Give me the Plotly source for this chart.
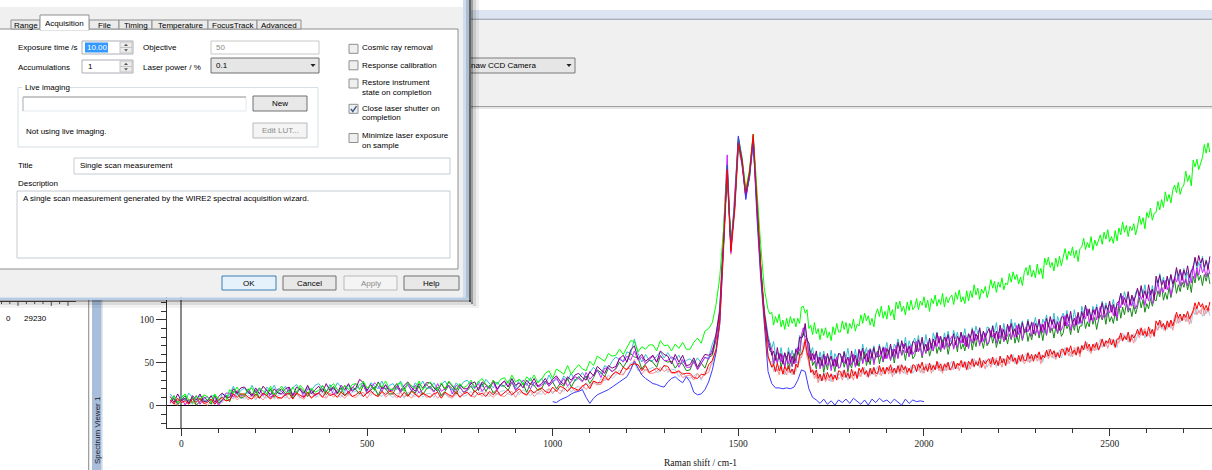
import plotly.graph_objects as go

# ---------------- data ----------------
# sampling: every 10 cm-1 up to 1570, then every 5 cm-1 (denser noisy part)
raman_shift = list(range(-30, 1580, 10)) + list(range(1575, 2775, 5))
blue_shift = list(range(1000, 2010, 10))
x_tick_values = [0, 500, 1000, 1500, 2000, 2500]

purple = [
 11, 4, 14, 6, 9, 3, 12, 7, 14, 5,
 6, 12, 4, 11, 15, 10, 10, 20, 15, 21,
 22, 16, 12, 21, 14, 23, 18, 13, 20, 15,
 14, 20, 22, 12, 22, 18, 15, 24, 14, 19,
 23, 16, 26, 18, 21, 15, 24, 19, 26, 17,
 21, 31, 27, 18, 25, 19, 28, 20, 24, 17,
 20, 26, 18, 24, 28, 21, 17, 26, 21, 27,
 27, 21, 17, 26, 19, 28, 23, 18, 25, 20,
 20, 26, 28, 18, 28, 24, 21, 30, 20, 25,
 29, 22, 32, 24, 27, 21, 30, 25, 32, 23,
 26, 32, 25, 31, 35, 29, 25, 34, 30, 36,
 38, 33, 30, 40, 35, 46, 42, 38, 47, 44,
 46, 55, 59, 51, 65, 70, 55, 60, 52, 55,
 59, 51, 64, 60, 58, 49, 60, 51, 59, 47,
 48, 56, 45, 53, 60, 59, 61, 84, 110, 188,
 278, 182, 232, 308, 284, 246, 270, 314, 232, 160,
 108,
 92, 78, 70, 59, 64, 53, 68, 55, 61, 49, 62, 54, 63, 51, 58, 49, 66, 60, 80, 79,
 82, 96, 77, 73, 53, 61, 54, 64, 50, 57, 47, 60, 49, 61, 52, 58, 47, 55, 46, 61,
 60, 51, 63, 49, 57, 48, 64, 52, 59, 47, 66, 58, 67, 55, 61, 51, 66, 56, 68, 57,
 57, 70, 60, 68, 55, 67, 61, 72, 58, 66, 61, 74, 64, 76, 67, 73, 62, 70, 60, 75,
 74, 63, 77, 69, 80, 66, 72, 64, 79, 67, 78, 70, 85, 73, 81, 68, 80, 75, 83, 70,
 74, 84, 71, 81, 76, 86, 73, 82, 69, 84, 79, 89, 76, 84, 78, 91, 75, 87, 80, 86,
 90, 81, 93, 79, 87, 78, 94, 82, 89, 77, 95, 87, 96, 84, 90, 80, 95, 85, 97, 86,
 86, 99, 89, 97, 84, 96, 90, 101, 87, 95, 89, 102, 92, 104, 95, 101, 90, 98, 88, 103,
 104, 93, 107, 99, 110, 96, 102, 94, 109, 97, 110, 102, 117, 105, 113, 100, 112, 107, 115, 102,
 110, 120, 107, 117, 112, 122, 109, 118, 105, 120, 121, 131, 118, 126, 120, 133, 117, 129, 122, 128,
 137, 128, 140, 126, 134, 125, 141, 129, 136, 124, 151, 143, 152, 140, 146, 136, 151, 141, 153, 142,
 148, 161, 151, 159, 146, 158, 152, 163, 149, 157, 160, 173, 163, 175, 166, 172, 161, 169, 159, 174]

cyan = [
 14, 8, 4, 13, 6, 15, 10, 5, 12, 7,
 5, 11, 13, 4, 14, 12, 13, 23, 13, 18,
 21, 14, 24, 16, 19, 13, 22, 17, 24, 15,
 17, 23, 15, 21, 25, 18, 14, 23, 18, 24,
 26, 20, 16, 25, 18, 27, 22, 17, 24, 19,
 19, 25, 27, 17, 27, 23, 20, 29, 19, 24,
 26, 19, 29, 21, 24, 18, 27, 22, 29, 20,
 21, 27, 19, 25, 29, 22, 18, 27, 22, 28,
 30, 24, 20, 29, 22, 31, 26, 21, 28, 23,
 23, 29, 31, 21, 31, 27, 24, 33, 23, 28,
 32, 25, 36, 28, 31, 26, 35, 30, 38, 29,
 32, 39, 32, 39, 45, 40, 37, 47, 44, 52,
 57, 54, 52, 63, 61, 78, 61, 51, 60, 53,
 53, 58, 63, 56, 62, 55, 54, 59, 50, 53,
 55, 49, 56, 50, 56, 56, 72, 83, 115, 195,
 270, 190, 228, 302, 288, 250, 265, 310, 238, 165,
 112,
 96, 82, 74, 67, 75, 59, 63, 54, 68, 56, 61, 53, 68, 56, 65, 53, 67, 66, 82, 78,
 83, 94, 73, 73, 62, 68, 54, 62, 49, 63, 54, 64, 50, 58, 52, 65, 49, 61, 55, 61,
 61, 50, 64, 56, 67, 53, 59, 51, 66, 54, 65, 57, 72, 60, 68, 55, 67, 62, 70, 57,
 62, 72, 59, 69, 64, 74, 61, 70, 57, 72, 68, 78, 65, 73, 67, 80, 64, 76, 69, 75,
 79, 70, 82, 68, 76, 67, 83, 71, 78, 66, 85, 77, 86, 74, 80, 70, 85, 75, 87, 76,
 75, 88, 78, 86, 73, 85, 79, 90, 76, 84, 78, 91, 81, 93, 84, 90, 79, 87, 77, 92,
 91, 80, 94, 86, 97, 83, 89, 81, 96, 84, 94, 86, 101, 89, 97, 84, 96, 91, 99, 86,
 91, 101, 88, 98, 93, 103, 90, 99, 86, 101, 96, 106, 93, 101, 95, 108, 92, 104, 97, 103,
 108, 99, 111, 97, 105, 96, 112, 100, 107, 95, 116, 108, 117, 105, 111, 101, 116, 106, 118, 107,
 109, 122, 112, 120, 107, 119, 113, 124, 110, 118, 118, 131, 121, 133, 124, 130, 119, 127, 117, 132,
 135, 124, 138, 130, 141, 127, 133, 125, 140, 128, 147, 139, 154, 142, 150, 137, 149, 144, 152, 139,
 148, 158, 145, 155, 150, 160, 147, 156, 143, 158, 162, 172, 159, 167, 161, 174, 158, 170, 163, 169]

magenta = [
 3, 12, 5, 10, 1, 7, 4, 12, 2, 9,
 11, 5, 10, 1, 6, 15, 15, 10, 18, 12,
 13, 18, 11, 16, 21, 12, 19, 10, 14, 20,
 17, 12, 22, 13, 16, 20, 10, 20, 18, 12,
 15, 24, 17, 22, 13, 19, 16, 24, 14, 21,
 26, 20, 25, 15, 20, 27, 23, 17, 25, 19,
 18, 23, 16, 21, 26, 17, 24, 15, 19, 25,
 21, 16, 26, 17, 20, 24, 14, 24, 22, 16,
 19, 28, 21, 26, 17, 23, 20, 28, 18, 25,
 29, 23, 28, 18, 23, 30, 26, 20, 28, 22,
 24, 29, 23, 28, 33, 25, 32, 23, 28, 34,
 32, 28, 39, 31, 36, 42, 33, 44, 44, 40,
 44, 56, 51, 58, 53, 64, 53, 57, 49, 54,
 58, 51, 59, 53, 53, 57, 55, 45, 54, 45,
 45, 52, 42, 49, 57, 54, 67, 78, 112, 200,
 292, 178, 240, 312, 280, 242, 268, 308, 228, 155,
 104,
 88, 74, 66, 67, 49, 57, 50, 61, 51, 59, 44, 56, 49, 61, 46, 56, 50, 68, 64, 83,
 91, 77, 78, 58, 62, 52, 60, 47, 57, 43, 53, 45, 58, 47, 53, 41, 54, 46, 57, 44,
 45, 58, 50, 55, 43, 56, 48, 60, 45, 53, 52, 64, 49, 57, 51, 65, 54, 62, 48, 59,
 63, 57, 64, 52, 68, 55, 61, 53, 66, 56, 70, 55, 68, 59, 72, 62, 67, 57, 70, 60,
 64, 75, 63, 73, 58, 68, 62, 74, 65, 73, 64, 76, 69, 81, 65, 74, 66, 80, 68, 77,
 81, 66, 76, 68, 79, 73, 82, 70, 80, 67, 81, 73, 87, 76, 82, 70, 83, 75, 85, 72,
 75, 88, 80, 85, 73, 86, 78, 90, 75, 83, 81, 93, 78, 86, 80, 94, 83, 91, 77, 88,
 92, 86, 93, 81, 97, 84, 90, 82, 95, 85, 98, 83, 96, 87, 100, 90, 95, 85, 98, 88,
 94, 105, 93, 103, 88, 98, 92, 104, 95, 103, 96, 108, 101, 113, 97, 106, 98, 112, 100, 109,
 116, 101, 111, 103, 114, 108, 117, 105, 115, 102, 122, 114, 128, 117, 123, 111, 124, 116, 126, 113,
 119, 132, 124, 129, 117, 130, 122, 134, 119, 127, 133, 145, 130, 138, 132, 146, 135, 143, 129, 140,
 150, 144, 151, 139, 155, 142, 148, 140, 153, 143, 163, 148, 161, 152, 165, 155, 160, 150, 163, 153]

dark_green = [
 4, 9, 2, 7, 12, 3, 10, 1, 5, 11,
 7, 2, 12, 3, 7, 12, 5, 17, 15, 9,
 11, 20, 13, 18, 9, 15, 12, 20, 10, 17,
 20, 14, 19, 9, 14, 21, 17, 11, 19, 13,
 15, 20, 13, 18, 23, 14, 21, 12, 16, 22,
 19, 14, 24, 15, 18, 22, 12, 22, 20, 14,
 14, 23, 16, 21, 12, 18, 15, 23, 13, 20,
 23, 17, 22, 12, 17, 24, 20, 14, 22, 16,
 18, 23, 16, 21, 26, 17, 24, 15, 19, 25,
 23, 18, 28, 19, 22, 26, 16, 26, 24, 18,
 20, 29, 23, 28, 20, 26, 23, 32, 22, 30,
 34, 29, 35, 26, 33, 42, 39, 34, 44, 40,
 43, 51, 45, 52, 61, 57, 56, 43, 49, 53,
 51, 45, 58, 53, 51, 52, 44, 50, 49, 41,
 42, 53, 43, 50, 44, 56, 59, 77, 108, 185,
 272, 185, 232, 305, 282, 244, 266, 311, 234, 162,
 106,
 86, 72, 64, 63, 48, 59, 50, 61, 45, 53, 46, 58, 43, 51, 46, 61, 52, 64, 58, 79,
 86, 81, 79, 55, 64, 47, 52, 43, 56, 45, 54, 39, 51, 42, 55, 45, 50, 40, 54, 44,
 46, 57, 45, 55, 40, 50, 44, 56, 47, 55, 46, 58, 51, 63, 47, 56, 48, 62, 50, 59,
 64, 49, 59, 51, 62, 56, 65, 53, 63, 50, 64, 56, 70, 59, 65, 53, 66, 58, 68, 55,
 58, 71, 63, 68, 56, 69, 61, 73, 58, 66, 64, 76, 61, 69, 63, 77, 66, 74, 60, 71,
 74, 68, 75, 63, 79, 66, 72, 64, 77, 67, 80, 65, 78, 69, 82, 72, 77, 67, 80, 70,
 74, 85, 73, 83, 68, 78, 72, 84, 75, 83, 72, 84, 77, 89, 73, 82, 74, 88, 76, 85,
 90, 75, 85, 77, 88, 82, 91, 79, 89, 76, 90, 82, 96, 85, 91, 79, 92, 84, 94, 81,
 85, 98, 90, 95, 83, 96, 88, 100, 85, 93, 93, 105, 90, 98, 92, 106, 95, 103, 89, 100,
 106, 100, 107, 95, 111, 98, 104, 96, 109, 99, 117, 102, 115, 106, 119, 109, 114, 104, 117, 107,
 115, 126, 114, 124, 109, 119, 113, 125, 116, 124, 122, 134, 127, 139, 123, 132, 124, 138, 126, 135,
 146, 131, 141, 133, 144, 138, 147, 135, 145, 132, 151, 143, 157, 146, 152, 140, 153, 145, 155, 142]

red = [
 7, 2, 9, 4, 6, 2, 8, 4, 9, 3,
 4, 8, 2, 7, 10, 6, 7, 14, 10, 14,
 14, 10, 8, 14, 9, 15, 12, 8, 13, 10,
 9, 13, 15, 8, 15, 12, 10, 16, 9, 13,
 15, 10, 17, 12, 14, 10, 16, 12, 17, 11,
 13, 17, 11, 15, 18, 13, 11, 17, 13, 17,
 16, 12, 10, 16, 11, 17, 14, 10, 15, 12,
 10, 14, 16, 9, 16, 13, 11, 17, 10, 14,
 16, 11, 18, 13, 15, 11, 17, 13, 18, 12,
 15, 19, 13, 17, 20, 15, 13, 19, 15, 19,
 21, 17, 15, 22, 17, 23, 21, 17, 22, 20,
 18, 23, 26, 20, 29, 27, 27, 35, 30, 36,
 40, 37, 45, 42, 48, 49, 48, 41, 47, 39,
 42, 44, 41, 47, 46, 39, 39, 41, 37, 38,
 38, 33, 32, 37, 36, 48, 53, 66, 100, 182,
 275, 180, 228, 306, 286, 248, 272, 316, 236, 164,
 104,
 80, 58, 52, 45, 48, 40, 50, 41, 46, 37, 46, 41, 47, 39, 43, 37, 49, 45, 59, 60,
 66, 77, 62, 55, 39, 42, 36, 42, 32, 37, 29, 38, 31, 39, 33, 37, 31, 36, 30, 41,
 40, 34, 42, 33, 38, 32, 43, 35, 40, 32, 44, 39, 45, 37, 41, 34, 44, 37, 45, 38,
 38, 47, 40, 45, 37, 45, 41, 48, 39, 44, 38, 47, 40, 48, 42, 46, 39, 44, 38, 48,
 47, 40, 49, 44, 51, 42, 46, 40, 50, 42, 47, 42, 52, 44, 49, 41, 49, 45, 51, 42,
 45, 52, 43, 50, 47, 53, 45, 51, 42, 52, 48, 55, 46, 51, 47, 56, 45, 53, 49, 53,
 55, 49, 57, 48, 53, 47, 58, 50, 55, 47, 59, 54, 60, 52, 56, 49, 59, 52, 60, 53,
 53, 62, 55, 60, 52, 60, 56, 63, 54, 59, 56, 65, 58, 66, 60, 64, 57, 62, 56, 66,
 66, 59, 68, 63, 70, 61, 65, 59, 69, 61, 70, 65, 75, 67, 72, 64, 72, 68, 74, 65,
 71, 78, 69, 76, 73, 79, 71, 77, 68, 78, 78, 85, 76, 81, 77, 86, 75, 83, 79, 83,
 89, 83, 91, 82, 87, 81, 92, 84, 89, 81, 99, 94, 100, 92, 96, 89, 99, 92, 100, 93,
 100, 109, 102, 107, 99, 107, 103, 110, 101, 106, 111, 120, 113, 121, 115, 119, 112, 117, 111, 121]

pink = [
 7, 3, 1, 7, 2, 8, 5, 1, 6, 3,
 1, 5, 7, 1, 8, 6, 7, 14, 7, 11,
 12, 7, 14, 9, 11, 7, 13, 9, 14, 8,
 10, 14, 8, 12, 15, 10, 8, 14, 10, 14,
 15, 11, 9, 15, 10, 16, 13, 9, 14, 11,
 10, 14, 16, 9, 16, 13, 11, 17, 10, 14,
 14, 9, 16, 11, 13, 9, 15, 11, 16, 10,
 11, 15, 9, 13, 16, 11, 9, 15, 11, 15,
 16, 12, 10, 16, 11, 17, 14, 10, 15, 12,
 11, 15, 17, 10, 17, 14, 12, 18, 11, 15,
 18, 13, 20, 16, 18, 14, 21, 17, 22, 17,
 19, 24, 19, 24, 29, 25, 25, 32, 30, 36,
 39, 37, 36, 44, 43, 54, 44, 37, 43, 38,
 38, 40, 45, 40, 43, 38, 38, 40, 33, 35,
 36, 30, 38, 32, 37, 39, 53, 63, 96, 178,
 268, 176, 224, 300, 282, 244, 266, 306, 230, 160,
 100,
 78, 56, 50, 46, 51, 40, 43, 36, 46, 37, 41, 36, 46, 38, 43, 36, 46, 45, 57, 56,
 65, 74, 57, 52, 41, 42, 32, 37, 27, 37, 30, 37, 28, 33, 29, 38, 28, 36, 32, 37,
 37, 30, 39, 34, 41, 32, 36, 30, 40, 32, 39, 34, 44, 36, 41, 33, 41, 37, 43, 34,
 37, 44, 35, 42, 39, 45, 37, 43, 34, 44, 39, 46, 37, 42, 38, 47, 36, 44, 40, 44,
 46, 40, 48, 39, 44, 38, 49, 41, 46, 38, 48, 43, 49, 41, 45, 38, 48, 41, 49, 42,
 42, 51, 44, 49, 41, 49, 45, 52, 43, 48, 43, 52, 45, 53, 47, 51, 44, 49, 43, 53,
 52, 45, 54, 49, 56, 47, 51, 45, 55, 47, 54, 49, 59, 51, 56, 48, 56, 52, 58, 49,
 52, 59, 50, 57, 54, 60, 52, 58, 49, 59, 57, 64, 55, 60, 56, 65, 54, 62, 58, 62,
 65, 59, 67, 58, 63, 57, 68, 60, 65, 57, 71, 66, 72, 64, 68, 61, 71, 64, 72, 65,
 68, 77, 70, 75, 67, 75, 71, 78, 69, 74, 73, 82, 75, 83, 77, 81, 74, 79, 73, 83,
 86, 79, 88, 83, 90, 81, 85, 79, 89, 81, 93, 88, 98, 90, 95, 87, 95, 91, 97, 88,
 98, 105, 96, 103, 100, 106, 98, 104, 95, 105, 108, 115, 106, 111, 107, 116, 105, 113, 109, 113]

light_blue = [
 4, 8, 2, 6, 9, 4, 2, 8, 4, 8,
 8, 4, 2, 9, 4, 11, 11, 8, 13, 10,
 8, 12, 14, 7, 14, 11, 9, 15, 8, 12,
 14, 9, 16, 11, 13, 9, 15, 11, 16, 10,
 12, 16, 10, 14, 17, 12, 10, 16, 12, 16,
 17, 13, 11, 17, 12, 18, 15, 11, 16, 13,
 10, 14, 16, 9, 16, 13, 11, 17, 10, 14,
 15, 10, 17, 12, 14, 10, 16, 12, 17, 11,
 13, 17, 11, 15, 18, 13, 11, 17, 13, 17,
 18, 14, 12, 18, 13, 19, 16, 12, 17, 14,
 14, 18, 20, 14, 21, 18, 17, 23, 16, 21,
 23, 19, 27, 23, 27, 24, 32, 29, 36, 32,
 36, 42, 37, 43, 50, 50, 41, 44, 41, 43,
 45, 39, 40, 48, 39, 43, 42, 34, 39, 34,
 32, 35, 38, 30, 40, 43, 49, 64, 98, 180,
 270, 188, 226, 298, 280, 246, 264, 304, 232, 162,
 102,
 79, 57, 51, 52, 40, 45, 40, 47, 41, 45, 36, 44, 39, 47, 36, 43, 40, 52, 50, 64,
 74, 66, 64, 47, 46, 37, 41, 32, 38, 29, 35, 30, 39, 32, 36, 28, 37, 32, 39, 31,
 34, 41, 33, 40, 30, 37, 33, 41, 35, 40, 34, 42, 37, 45, 34, 40, 35, 44, 36, 42,
 46, 36, 42, 37, 44, 40, 46, 38, 45, 36, 44, 39, 48, 41, 45, 37, 45, 40, 47, 38,
 42, 49, 41, 48, 38, 45, 41, 49, 43, 48, 40, 48, 43, 51, 40, 46, 41, 50, 42, 48,
 52, 42, 48, 43, 50, 46, 52, 44, 51, 42, 51, 46, 55, 48, 52, 44, 52, 47, 54, 45,
 49, 56, 48, 55, 45, 52, 48, 56, 50, 55, 49, 57, 52, 60, 49, 55, 50, 59, 51, 57,
 61, 51, 57, 52, 59, 55, 61, 53, 60, 51, 62, 57, 66, 59, 63, 55, 63, 58, 65, 56,
 61, 68, 60, 67, 57, 64, 60, 68, 62, 67, 63, 71, 66, 74, 63, 69, 64, 73, 65, 71,
 78, 68, 74, 69, 76, 72, 78, 70, 77, 68, 81, 76, 85, 78, 82, 74, 82, 77, 84, 75,
 83, 90, 82, 89, 79, 86, 82, 90, 84, 89, 88, 96, 91, 99, 88, 94, 89, 98, 90, 96,
 106, 96, 102, 97, 104, 100, 106, 98, 105, 96, 111, 106, 115, 108, 112, 104, 112, 107, 114, 105]

green = [
 6, 12, 4, 10, 14, 7, 3, 12, 7, 13,
 11, 4, 14, 7, 10, 6, 19, 15, 22, 13,
 13, 19, 21, 11, 21, 17, 14, 23, 13, 18,
 23, 17, 13, 22, 15, 24, 19, 14, 21, 16,
 18, 24, 16, 22, 26, 19, 15, 24, 19, 25,
 26, 19, 29, 21, 24, 18, 27, 22, 29, 20,
 19, 25, 27, 17, 27, 23, 20, 29, 19, 24,
 28, 22, 18, 27, 20, 29, 24, 19, 26, 21,
 24, 30, 22, 28, 32, 25, 21, 30, 25, 31,
 33, 26, 36, 28, 31, 25, 34, 29, 36, 27,
 31, 38, 41, 32, 43, 40, 37, 47, 37, 43,
 48, 43, 41, 52, 47, 58, 55, 52, 61, 58,
 59, 66, 60, 68, 76, 75, 63, 69, 66, 71,
 71, 64, 76, 70, 71, 64, 72, 67, 74, 66,
 66, 74, 79, 73, 87, 90, 97, 118, 150, 205,
 280, 190, 235, 312, 290, 252, 275, 316, 248, 188,
 136,
 122, 112, 107, 109, 94, 104, 97, 107, 92, 100, 89, 102, 92, 104, 96, 102, 92, 102, 96, 115,
 116, 108, 112, 90, 94, 83, 97, 84, 90, 77, 90, 82, 91, 79, 86, 76, 92, 83, 96, 86,
 86, 99, 89, 97, 84, 96, 90, 101, 87, 95, 93, 106, 96, 108, 99, 105, 94, 102, 92, 107,
 113, 104, 116, 102, 110, 101, 117, 105, 112, 100, 121, 113, 122, 110, 116, 106, 121, 111, 123, 112,
 115, 125, 112, 122, 117, 127, 114, 123, 110, 125, 119, 129, 116, 124, 118, 131, 115, 127, 120, 126,
 129, 118, 132, 124, 135, 121, 127, 119, 134, 122, 134, 126, 141, 129, 137, 124, 136, 131, 139, 126,
 134, 147, 137, 145, 132, 144, 138, 149, 135, 143, 141, 154, 144, 156, 147, 153, 142, 150, 140, 155,
 161, 152, 164, 150, 158, 149, 165, 153, 160, 148, 172, 164, 173, 161, 167, 157, 172, 162, 174, 163,
 173, 183, 170, 180, 175, 185, 172, 181, 168, 183, 185, 195, 182, 190, 184, 197, 181, 193, 186, 192,
 199, 188, 202, 194, 205, 191, 197, 189, 204, 192, 207, 199, 214, 202, 210, 197, 209, 204, 212, 199,
 208, 221, 211, 219, 206, 225, 219, 230, 216, 224, 225, 238, 228, 240, 231, 249, 238, 246, 236, 251,
 257, 248, 260, 246, 254, 257, 273, 261, 268, 256, 286, 278, 287, 275, 281, 289, 304, 294, 306, 295]

blue = [
 5, 4, 7, 9, 11, 14, 16, 17, 19, 10,
 3, 9, 13, 15, 17, 19, 22, 25, 28, 32,
 34, 42, 52, 44, 36, 32, 29, 26, 25, 23,
 22, 28, 32, 34, 30, 27, 34, 28, 16, 13,
 14, 19, 28, 42, 62, 95, 185, 280, 186, 234,
 314, 286, 240, 268, 310, 220, 150, 92, 40, 26,
 21, 21, 20, 21, 20, 22, 30, 42, 40, 20,
 10, 7, 3, 8, 2, 6, 1, 7, 4, 8,
 3, 9, 5, 2, 7, 1, 8, 4, 9, 5,
 7, 3, 8, 4, 1, 8, 3, 7, 5, 6,
 5]

for _s in (purple, cyan, magenta, dark_green, red, pink, light_blue, green):
    assert len(_s) == len(raman_shift), len(_s)
assert len(blue) == len(blue_shift)

# ---------------- figure ----------------
W, H = 1212, 470
SANS = "Liberation Sans"
SERIF = "Liberation Serif"

fig = go.Figure()
spectra = [
    ("light blue", light_blue, "#a6cbec"),
    ("pink", pink, "#ff8c8c"),
    ("cyan", cyan, "#35bfcf"),
    ("dark green", dark_green, "#178a17"),
    ("magenta", magenta, "#cc22ff"),
    ("purple", purple, "#800080"),
    ("green", green, "#00ff00"),
]
for name, vals, col in spectra:
    fig.add_trace(go.Scatter(x=raman_shift, y=vals, mode="lines", name=name,
                             line=dict(color=col, width=1), hoverinfo="skip"))
fig.add_trace(go.Scatter(x=blue_shift, y=blue, mode="lines", name="blue",
                         line=dict(color="#3a3aff", width=1), hoverinfo="skip"))
fig.add_trace(go.Scatter(x=raman_shift, y=red, mode="lines", name="red",
                         line=dict(color="#ff0000", width=1), hoverinfo="skip"))

# ---------------- UI decoration helpers (pixel -> paper) ----------------
shapes, anns = [], []

def X(px):
    return px / W

def Y(py):
    return 1 - py / H

def rect(x0, y0, x1, y1, fill=None, line=None, lw=1):
    shapes.append(dict(type="rect", xref="paper", yref="paper", layer="above",
                       x0=X(x0), x1=X(x1), y0=Y(y1), y1=Y(y0),
                       fillcolor=fill if fill else "rgba(0,0,0,0)",
                       line=dict(color=line if line else "rgba(0,0,0,0)",
                                 width=lw if line else 0)))

def seg(x0, y0, x1, y1, color, lw=1):
    shapes.append(dict(type="line", xref="paper", yref="paper", layer="above",
                       x0=X(x0), x1=X(x1), y0=Y(y0), y1=Y(y1),
                       line=dict(color=color, width=lw)))

def poly(points, fill=None, line=None, lw=1, closed=True):
    d = "M " + " L ".join(f"{X(a):.5f},{Y(b):.5f}" for a, b in points)
    if closed:
        d += " Z"
    shapes.append(dict(type="path", xref="paper", yref="paper", layer="above", path=d,
                       fillcolor=fill if fill else "rgba(0,0,0,0)",
                       line=dict(color=line if line else "rgba(0,0,0,0)",
                                 width=lw if line else 0)))

def tri(cx, cy, w, h, up, color):
    if up:
        pts = [(cx - w / 2, cy + h / 2), (cx + w / 2, cy + h / 2), (cx, cy - h / 2)]
    else:
        pts = [(cx - w / 2, cy - h / 2), (cx + w / 2, cy - h / 2), (cx, cy + h / 2)]
    poly(pts, fill=color)

def text(x, y, s, size=8, color="#000000", anchor="left", family=SANS, angle=0):
    anns.append(dict(xref="paper", yref="paper", x=X(x), y=Y(y), text=s,
                     showarrow=False, xanchor=anchor, yanchor="middle",
                     borderpad=0, textangle=angle,
                     font=dict(family=family, size=size, color=color)))

# ---------- background application window (right) ----------
rect(0, 10, W, 18.5, fill="#dde5f3")
rect(0, 18.5, W, 20, fill="#a7afba")
rect(0, 20, W, 106, fill="#f0f0f0")
rect(0, 106, W, 107, fill="#a0a0a0")
rect(0, 107, W, 109, fill="#e6e6e6")
rect(455, 58, 575, 73, fill="#e6e6e6", line="#7a7a7a")
tri(569, 65.5, 5, 3, False, "#222222")
text(470, 65.5, "naw CCD Camera", 8)

# ---------- left panel below dialog ----------
rect(0, 300, 88, H, fill="#ffffff")
seg(0, 301.5, 76, 301.5, "#555555")
for i, tx in enumerate([1.5, 9.8, 18, 26.4, 34.7, 43, 51.3, 59.6, 68]):
    seg(tx, 301.5, tx, 306 if i in (2, 6, 8) else 304, "#555555")
text(12, 318, "0", 8, anchor="right")
text(23, 318, "29230", 8)
rect(88, 300, 89.3, H, fill="#a0a0a0")
rect(92, 300, 101.5, H, fill="#a8bedb")
rect(101.5, 300, 102.5, H, fill="#c9d3df")
text(97, 430, "Spectrum Viewer 1", 8, color="#1b1b1b", anchor="center", angle=-90)

# ---------- dialog ----------
rect(-2, 7, 463, 297.5, fill="#f0f0f0")
rect(-2, 29, 458, 269, fill="#ffffff", line="#8e8f8f")
tabs = [("Range", 11, 40), ("File", 89, 119), ("Timing", 119, 152),
        ("Temperature", 152, 208), ("FocusTrack", 208, 257), ("Advanced", 257, 301)]
for lab, a, b in tabs:
    rect(a, 20, b, 29, fill="#ebebeb", line="#8e8f8f")
    text((a + b) / 2, 25, lab, 8, anchor="center")
rect(40, 15, 89, 30, fill="#ffffff", line="#8e8f8f")
rect(40.6, 28, 88.4, 30.6, fill="#ffffff")
text(64.5, 23, "Acquisition", 8, anchor="center")

text(17, 47.5, "Exposure time /s")
rect(82, 41, 133, 54, fill="#ffffff", line="#abadb3")
rect(120, 42, 132, 47.5, fill="#ececec", line="#c4c4c4")
rect(120, 47.5, 132, 53, fill="#ececec", line="#c4c4c4")
tri(126, 44.8, 4, 2.2, True, "#555555")
tri(126, 50.3, 4, 2.2, False, "#555555")
rect(85, 42.5, 108, 52.5, fill="#3399ff")
text(86, 47.5, "10.00", 8, color="#ffffff")

text(17, 67, "Accumulations")
rect(82, 60, 133, 73, fill="#ffffff", line="#abadb3")
rect(120, 61, 132, 66.5, fill="#ececec", line="#c4c4c4")
rect(120, 66.5, 132, 72, fill="#ececec", line="#c4c4c4")
tri(126, 63.8, 4, 2.2, True, "#555555")
tri(126, 69.3, 4, 2.2, False, "#555555")
text(87, 66.5, "1")

text(142, 47.5, "Objective")
rect(211, 41, 319, 54, fill="#ffffff", line="#c8c8c8")
text(215, 47.5, "50", color="#8a8a8a")

text(142, 67, "Laser power / %")
rect(211, 58, 319, 73, fill="#e6e6e6", line="#707070")
tri(313, 65.5, 5, 3, False, "#222222")
text(215, 65.5, "0.1")

checks = [(44.3, [(47.7, "Cosmic ray removal")], False),
          (60.8, [(65, "Response calibration")], False),
          (79, [(82.7, "Restore instrument"), (92.3, "state on completion")], False),
          (104.3, [(108.3, "Close laser shutter on"), (117.7, "completion")], True),
          (133.5, [(135, "Minimize laser exposure"), (145, "on sample")], False)]
for top, lines, on in checks:
    rect(349, top, 358, top + 9, fill="#efefef", line="#8e8f8f")
    for yy, s in lines:
        text(361, yy, s)
    if on:
        poly([(350.8, top + 4.6), (352.8, top + 7.2), (356.5, top + 1.8)],
             line="#3b5a86", lw=1.4, closed=False)

rect(18, 87.5, 318, 147, line="#d5dfe5")
rect(22, 83, 70, 92, fill="#ffffff")
text(24, 87, "Live imaging")
rect(23, 97, 246, 111, fill="#ffffff", line="#e3e9ef")
seg(23, 97, 246, 97, "#9a9a9a")
seg(23, 97, 23, 111, "#b5b5b5")
rect(253, 96, 307, 111, fill="#e8e8e8", line="#707070")
text(280, 103.5, "New", anchor="center")
text(25, 131, "Not using live imaging.")
rect(253, 123, 307, 138, fill="#f4f4f4", line="#b5b9bc")
text(280, 130.5, "Edit LUT...", color="#8a8a8a", anchor="center")

text(17, 165, "Title")
rect(74, 158, 450, 174, fill="#ffffff", line="#c6ccd2")
text(79, 166, "Single scan measurement")
text(17, 183, "Description")
rect(17, 191, 450, 258, fill="#ffffff", line="#c6ccd2")
text(22, 198, "A single scan measurement generated by the WIRE2 spectral acquisition wizard.")

btns = [("OK", 222, 276, "#3c7fb1", "#e5f1fb", "#000000"),
        ("Cancel", 283, 336, "#707070", "#e8e8e8", "#000000"),
        ("Apply", 344, 397, "#b5b9bc", "#f4f4f4", "#8a8a8a"),
        ("Help", 404, 459, "#707070", "#e8e8e8", "#000000")]
for lab, a, b, lc, fc, tc in btns:
    rect(a, 276, b, 290, fill=fc, line=lc)
    text((a + b) / 2, 283.5, lab, color=tc, anchor="center")

rect(463, 0, 466, 300, fill="#d3dde9")
rect(466, 0, 469, 300, fill="#a9bfd8")
rect(469, 0, 471, 302, fill="#646464")
rect(471, 0, 473, 304, fill="rgba(0,0,0,0.38)")
rect(473, 0, 476, 306, fill="rgba(0,0,0,0.16)")
rect(476, 0, 479, 308, fill="rgba(0,0,0,0.06)")
rect(-2, 297.5, 469, 300, fill="#b7cde6")
rect(-2, 300, 471, 302, fill="rgba(0,0,0,0.35)")
rect(-2, 302, 473, 305, fill="rgba(0,0,0,0.14)")
rect(-2, 305, 476, 308, fill="rgba(0,0,0,0.05)")

text(700, 463, "Raman shift / cm-1", 9.5, color="#111111", anchor="center", family=SERIF)

axis_col = "#333333"
fig.update_layout(
    width=W, height=H,
    margin=dict(l=0, r=0, t=0, b=0, pad=0),
    paper_bgcolor="#ffffff", plot_bgcolor="#ffffff",
    showlegend=False,
    xaxis=dict(domain=[167 / W, 1], range=[-38.8, 2775.7],
               tickmode="array", tickvals=x_tick_values,
               ticks="outside", ticklen=7, tickcolor=axis_col, tickwidth=1,
               showline=True, linecolor=axis_col, linewidth=1,
               showgrid=False, zeroline=True, zerolinecolor="#8a8a8a", zerolinewidth=2,
               tickfont=dict(family=SERIF, size=9.5, color="#222222"),
               minor=dict(dtick=100, tick0=0, ticks="outside", ticklen=4,
                          tickcolor=axis_col, showgrid=False)),
    yaxis=dict(domain=[1 - 428 / H, 1 - 108 / H], range=[-25.6, 346.5],
               tick0=0, dtick=50,
               ticks="outside", ticklen=10, tickcolor=axis_col, tickwidth=1,
               showline=True, linecolor=axis_col, linewidth=1,
               showgrid=False, zeroline=True, zerolinecolor="#000000", zerolinewidth=1,
               tickfont=dict(family=SERIF, size=9.5, color="#222222"),
               minor=dict(dtick=10, tick0=0, ticks="outside", ticklen=5,
                          tickcolor=axis_col, showgrid=False)),
    shapes=shapes,
    annotations=anns,
)

fig.write_html("out.html", config={"displayModeBar": False},
               post_script="document.body.style.margin='0px';document.body.style.overflow='hidden';")
